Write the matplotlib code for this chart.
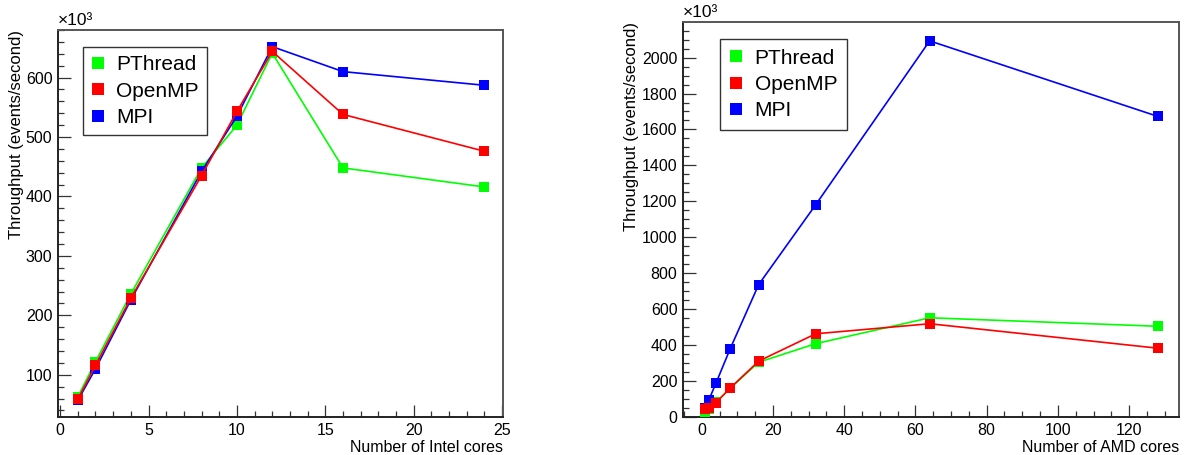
import matplotlib
matplotlib.use("Agg")
import matplotlib.pyplot as plt
from matplotlib.lines import Line2D
from matplotlib.ticker import MultipleLocator

plt.rcParams['font.family'] = ['Liberation Sans', 'DejaVu Sans']

# Intel machine
intel_cores = [1, 2, 4, 8, 10, 12, 16, 24]
intel_pthread = [63, 122, 236, 448, 520, 641, 448, 416]
intel_openmp = [59, 116, 229, 435, 543, 644, 538, 476]
intel_mpi = [57, 110, 226, 442, 535, 652, 610, 587]

# AMD machine
amd_cores = [1, 2, 4, 8, 16, 32, 64, 128]
amd_pthread = [28, 45, 82, 160, 305, 408, 552, 505]
amd_openmp = [46, 50, 80, 161, 311, 463, 519, 383]
amd_mpi = [48, 95, 188, 380, 737, 1181, 2093, 1673]

series_names = ['PThread', 'OpenMP', 'MPI']
series_colors = ['#00ff00', '#ff0000', '#0000ff']
draw_order = [0, 2, 1]  # green, blue, red on top

W, H = 1185, 455
fig = plt.figure(figsize=(W / 100, H / 100), dpi=100)


def px_axes(x0, y0, x1, y1):
    return fig.add_axes([x0 / W, 1 - y1 / H, (x1 - x0) / W, (y1 - y0) / H])


def style_axes(ax, xmaj, xmin, ymaj, ymin):
    ax.xaxis.set_major_locator(MultipleLocator(xmaj))
    ax.xaxis.set_minor_locator(MultipleLocator(xmin))
    ax.yaxis.set_major_locator(MultipleLocator(ymaj))
    ax.yaxis.set_minor_locator(MultipleLocator(ymin))
    ax.tick_params(which='both', direction='in', top=False, right=False,
                   colors='#333333', labelcolor='black', labelsize=11.5, width=0.9)
    ax.tick_params(which='major', length=9, pad=4)
    ax.tick_params(which='minor', length=4.5)
    for s in ['left', 'bottom']:
        ax.spines[s].set_color('#222222')
        ax.spines[s].set_linewidth(1.4)
    for s in ['top', 'right']:
        ax.spines[s].set_color('#555555')
        ax.spines[s].set_linewidth(1.4)


def draw_panel(ax, cores, data):
    for k, i in enumerate(draw_order):
        ax.plot(cores, data[i], color=series_colors[i], lw=1.2,
                marker='s', markersize=7, markeredgewidth=0, zorder=3 + k)


def add_legend(ax, anchor, pad):
    handles = [Line2D([], [], ls='none', marker='s', color=c, markersize=8,
                      markeredgewidth=0) for c in series_colors]
    leg = ax.legend(handles, series_names, loc='upper left', bbox_to_anchor=anchor,
                    borderaxespad=0, fontsize=15, frameon=True, fancybox=False,
                    edgecolor='#333333', framealpha=1, handlelength=0.6,
                    handletextpad=0.6, labelspacing=0.35, borderpad=pad)
    leg.get_frame().set_linewidth(1.0)


# left panel
ax1 = px_axes(58, 30, 503, 417)
draw_panel(ax1, intel_cores, [intel_pthread, intel_openmp, intel_mpi])
ax1.set_xlim(-0.12, 25.05)
ax1.set_ylim(29, 680)
style_axes(ax1, 5, 1, 100, 20)
ax1.set_xlabel('Number of Intel cores', fontsize=11.5, loc='right', labelpad=2)
ax1.set_ylabel('Throughput (events/second)', fontsize=12, loc='top')
ax1.yaxis.set_label_coords(-0.076, 1.0)
ax1.text(0, 1.005, '×10³', transform=ax1.transAxes, fontsize=12.5, ha='left', va='bottom')
add_legend(ax1, (0.056, 0.956), 0.4)

# right panel
ax2 = px_axes(683, 22, 1179, 417)
draw_panel(ax2, amd_cores, [amd_pthread, amd_openmp, amd_mpi])
ax2.set_xlim(-5.25, 134)
ax2.set_ylim(0, 2198)
style_axes(ax2, 20, 5, 200, 50)
ax2.set_xlabel('Number of AMD cores', fontsize=11.5, loc='right', labelpad=2)
ax2.set_ylabel('Throughput (events/second)', fontsize=12, loc='top')
ax2.yaxis.set_label_coords(-0.089, 1.0)
ax2.text(0, 1.005, '×10³', transform=ax2.transAxes, fontsize=12.5, ha='left', va='bottom')
add_legend(ax2, (0.075, 0.956), 0.45)

fig.savefig('out.png', dpi=100)
